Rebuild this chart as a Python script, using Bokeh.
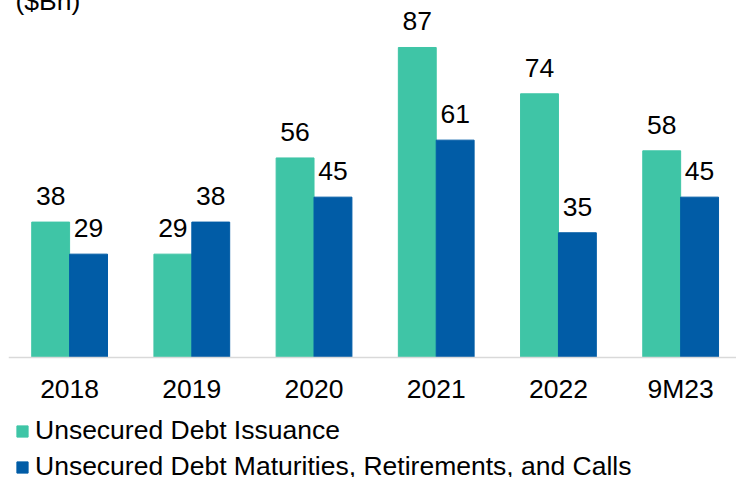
from bokeh.plotting import figure
from bokeh.models import Range1d, FixedTicker, ColumnDataSource, Legend, LegendItem, Label
from bokeh.core.properties import value
from bokeh.embed import file_html
from bokeh.resources import INLINE

categories = ["2018", "2019", "2020", "2021", "2022", "9M23"]
issuance = [38, 29, 56, 87, 74, 58]
maturities = [29, 38, 45, 61, 35, 45]
series_names = ["Unsecured Debt Issuance", "Unsecured Debt Maturities, Retirements, and Calls"]
colors = ["#3FC5A6", "#015CA6"]

FONT = "Liberation Sans"
FS = "26.5px"
idx = list(range(len(categories)))
BW = 0.31

p = figure(width=728, height=483, output_backend="svg", toolbar_location=None,
           x_range=Range1d(-0.5, 5.457), y_range=Range1d(-33.68, 101.87),
           y_axis_location=None, min_border_left=0, min_border_right=0,
           min_border_top=0, min_border_bottom=0,
           styles={"margin-top": "-6px", "margin-left": "8px", "margin-bottom": "-6px"})
p.outline_line_color = None
p.grid.visible = False
p.background_fill_color = "white"
p.border_fill_color = "white"

src = ColumnDataSource(dict(
    x1=[i - BW / 2 for i in idx], x2=[i + BW / 2 for i in idx],
    a=issuance, b=maturities,
    la=[str(v) for v in issuance], lb=[str(v) for v in maturities]))

r1 = p.vbar(x="x1", top="a", bottom=0, width=BW, color=colors[0], source=src)
r2 = p.vbar(x="x2", top="b", bottom=0, width=BW, color=colors[1], source=src)

for xs, ys, ls in (("x1", "a", "la"), ("x2", "b", "lb")):
    p.text(x=xs, y=ys, text=ls, source=src, text_align="center",
           text_baseline="alphabetic", y_offset=-26,
           text_font=value(FONT), text_font_size=FS, text_color="#000000")

ax = p.xaxis[0]
ax.fixed_location = 0
ax.ticker = FixedTicker(ticks=idx)
ax.major_label_overrides = {i: c for i, c in zip(idx, categories)}
ax.major_tick_line_color = None
ax.minor_tick_line_color = None
ax.major_tick_out = 0
ax.major_tick_in = 0
ax.axis_line_color = "#D9D9D9"
ax.axis_line_width = 1.5
ax.major_label_standoff = 17
ax.major_label_text_font = FONT
ax.major_label_text_font_size = FS
ax.major_label_text_color = "#000000"

legend = Legend(items=[LegendItem(label=series_names[0], renderers=[r1]),
                       LegendItem(label=series_names[1], renderers=[r2])],
                location=(7, -5), orientation="vertical",
                margin=0, padding=0, spacing=5,
                glyph_width=14, glyph_height=14, label_standoff=6, label_height=30,
                label_text_font=FONT, label_text_font_size=FS,
                label_text_color="#000000",
                border_line_color=None, background_fill_alpha=0)
p.add_layout(legend)

title = Label(x=7, y=477, x_units="screen", y_units="screen", text="($Bn)",
              text_font=FONT, text_font_size=FS, text_color="#000000",
              text_baseline="alphabetic")
p.add_layout(title)

open("out.html", "w").write(file_html(p, INLINE))
